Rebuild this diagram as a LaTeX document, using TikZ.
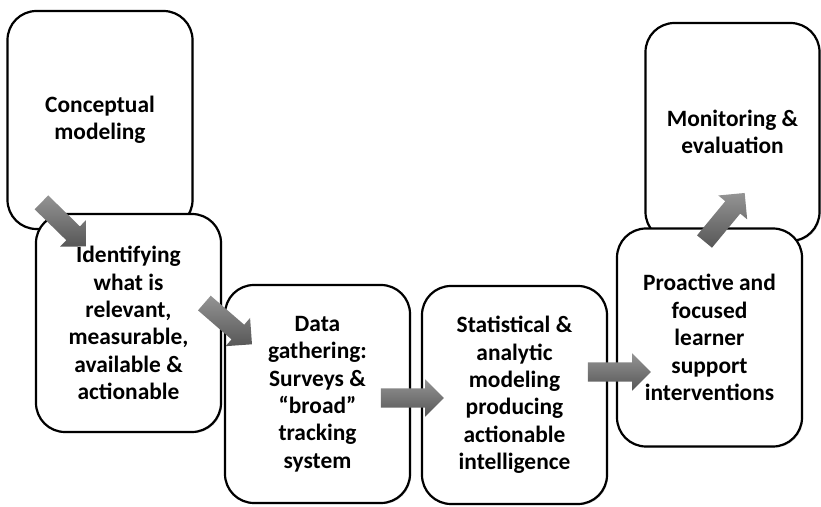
\documentclass[tikz,border=0pt]{standalone}
\usepackage{fontspec}
\setmainfont{Carlito}
\usetikzlibrary{shapes.arrows,shadows}

\tikzset{
  stage/.style={draw, line width=2.2bp, fill=white, rounded corners=29bp,
    minimum width=185bp, minimum height=218bp, align=center,
    font=\bfseries\fontsize{23.5}{27.5}\selectfont,
    drop shadow={shadow xshift=1.2bp, shadow yshift=-1.2bp, opacity=0.3}},
  flow/.style={single arrow, single arrow head extend=9bp,
    inner xsep=0pt, inner ysep=9.5bp, minimum height=63bp, sloped,
    top color=black!42, middle color=black!60, bottom color=black!66}
}

\begin{document}
\begin{tikzpicture}[x=1bp,y=1bp]
  \useasboundingbox (0,0) rectangle (821,507);

  % stages, each later one drawn over the one before
  \node[stage] (concept) at (100,387) {Conceptual\\modeling};
  \node[stage] (identify) at (128.5,184) {Identifying\\what is\\relevant,\\measurable,\\available \&\\actionable};
  \node[stage] (gather) at (317.5,113) {Data\\gathering:\\Surveys \&\\``broad''\\tracking\\system};
  \node[stage] (model) at (514.5,112) {Statistical \&\\analytic\\modeling\\producing\\actionable\\intelligence};
  \node[stage, minimum width=174bp] (monitor) at (732.5,375) {Monitoring \&\\evaluation};
  \node[stage] (support) at (709.5,169.5) {Proactive and\\focused\\learner\\support\\interventions};

  % block arrows across the borders
  \coordinate (t1) at (38,308);  \coordinate (h1) at (83,264);
  \coordinate (t2) at (202,206); \coordinate (h2) at (247,167);
  \coordinate (t3) at (378,109); \coordinate (h3) at (437,109);
  \coordinate (t4) at (582,135); \coordinate (h4) at (647,135);
  \coordinate (t5) at (700,260); \coordinate (h5) at (743,312);
  \path (t1) -- node[flow] (f1) {} (h1);
  \path (t2) -- node[flow] (f2) {} (h2);
  \path (t3) -- node[flow] (f3) {} (h3);
  \path (t4) -- node[flow] (f4) {} (h4);
  \path (t5) -- node[flow] (f5) {} (h5);
\end{tikzpicture}
\end{document}
